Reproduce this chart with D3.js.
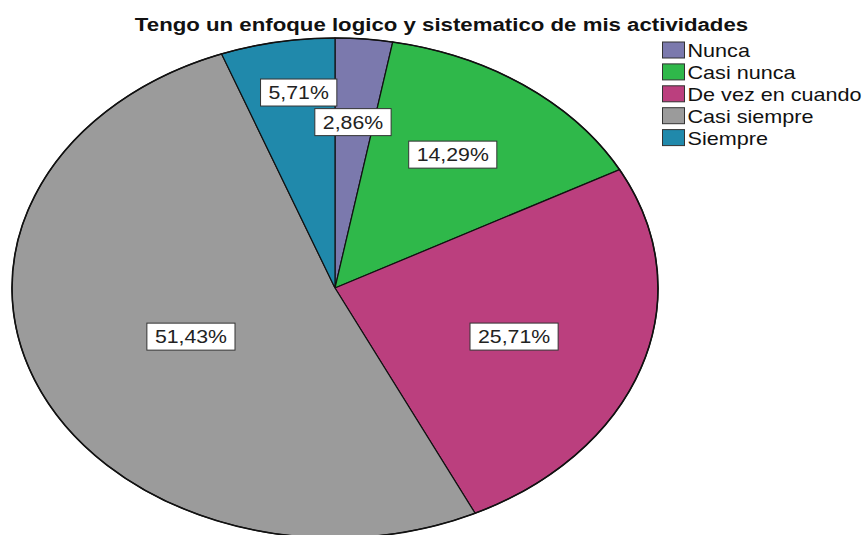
<!DOCTYPE html>
<html>
<head>
<meta charset="utf-8">
<script src="https://cdn.jsdelivr.net/npm/d3@7"></script>
<style>
  html, body { margin: 0; padding: 0; background: #fff; }
  svg { display: block; }
  text { font-family: "Liberation Sans", Arial, sans-serif; }
</style>
</head>
<body>
<svg id="chart" width="864" height="535"></svg>
<script>
// Survey answers and their share of respondents (%)
const categories = ["Nunca", "Casi nunca", "De vez en cuando", "Casi siempre", "Siempre"];
const percentages = [2.86, 14.29, 25.71, 51.43, 5.71];
const sliceColors = ["#7b79ad", "#2fb84a", "#bb3f7e", "#9b9b9b", "#2089ab"];
const title = "Tengo un enfoque logico y sistematico de mis actividades";

const svg = d3.select("#chart");

// Text is drawn slightly widened horizontally
const labelStretch = 1.15;
const legendStretch = 1.2;
const titleStretch = 1.27;

// Elliptical pie geometry
const cx = 335, cy = 288, rx = 323, ry = 250;

const pie = d3.pie().sort(null).value(d => d.value);
const data = categories.map((c, i) => ({ name: c, value: percentages[i], color: sliceColors[i] }));
const arcs = pie(data);

const arc = d3.arc().innerRadius(0).outerRadius(rx);

const pieG = svg.append("g")
  .attr("transform", `translate(${cx},${cy}) scale(1,${ry / rx})`);

pieG.selectAll("path.slice")
  .data(arcs)
  .enter().append("path")
  .attr("class", "slice")
  .attr("d", arc)
  .attr("fill", d => d.data.color)
  .attr("stroke", "#111")
  .attr("stroke-width", 1.2)
  .attr("vector-effect", "non-scaling-stroke");

// outer rim
pieG.append("ellipse")
  .attr("cx", 0).attr("cy", 0)
  .attr("rx", rx).attr("ry", rx)
  .attr("fill", "none")
  .attr("stroke", "#111")
  .attr("stroke-width", 1.6)
  .attr("vector-effect", "non-scaling-stroke");

// Percentage labels: radial fraction plus a vertical nudge to keep the small slices apart
const labelPlacement = [
  { f: 0.62, dy: -11.5 },
  { f: 0.62, dy: -8 },
  { f: 0.583, dy: 3.5 },
  { f: 0.485, dy: 1 },
  { f: 0.63, dy: -40.5 }
];
const fmt = v => v.toFixed(2).replace(".", ",") + "%";

arcs.forEach((a, i) => {
  const mid = (a.startAngle + a.endAngle) / 2;
  const p = labelPlacement[i];
  const x = cx + Math.sin(mid) * rx * p.f;
  const y = cy - Math.cos(mid) * ry * p.f + p.dy;
  const g = svg.append("g").attr("transform", `translate(${x},${y})`);
  const rect = g.append("rect");
  const t = g.append("text")
    .attr("text-anchor", "middle")
    .attr("dy", "0.36em")
    .attr("transform", `scale(${labelStretch},1)`)
    .attr("font-size", 18.5)
    .attr("fill", "#222")
    .text(fmt(a.data.value));
  const tw = t.node().getComputedTextLength() * labelStretch;
  const padX = 8, bh = 27;
  rect.attr("x", -tw / 2 - padX).attr("y", -bh / 2)
    .attr("width", tw + 2 * padX).attr("height", bh)
    .attr("fill", "#fff")
    .attr("stroke", "#333")
    .attr("stroke-width", 1);
});

// Title
svg.append("text")
  .attr("transform", `translate(441.5,31) scale(${titleStretch},1)`)
  .attr("text-anchor", "middle")
  .attr("font-size", 17.5)
  .attr("font-weight", "bold")
  .attr("fill", "#111")
  .text(title);

// Legend
const legend = svg.append("g").attr("transform", "translate(662,50)");
const rowH = 21.9;
const items = legend.selectAll("g.item")
  .data(data)
  .enter().append("g")
  .attr("class", "item")
  .attr("transform", (d, i) => `translate(0,${i * rowH})`);

items.append("rect")
  .attr("x", 0.5).attr("y", -8)
  .attr("width", 22).attr("height", 16)
  .attr("fill", d => d.color)
  .attr("stroke", "#333")
  .attr("stroke-width", 1);

items.append("text")
  .attr("transform", `translate(25.5,7) scale(${legendStretch},1)`)
  .attr("font-size", 18)
  .attr("fill", "#111")
  .text(d => d.name);
</script>
</body>
</html>
